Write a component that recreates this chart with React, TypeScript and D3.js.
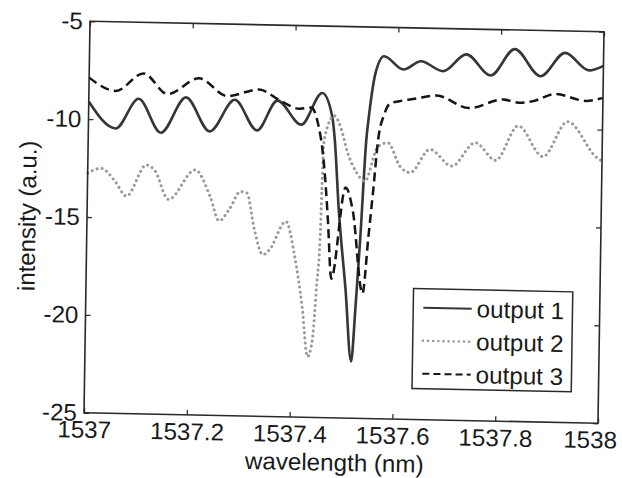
import React, { useEffect, useRef } from "react";
import * as d3 from "d3";

// output 1 (solid) - wavelength (nm) / intensity (a.u.)
const output1Wl = [
  1537.0, 1537.053, 1537.097, 1537.141, 1537.189, 1537.236, 1537.284, 1537.328,
  1537.367, 1537.414, 1537.454, 1537.474, 1537.48, 1537.489, 1537.505, 1537.518,
  1537.525, 1537.532, 1537.541, 1537.546, 1537.557, 1537.573, 1537.611, 1537.645,
  1537.688, 1537.733, 1537.781, 1537.827, 1537.878, 1537.925, 1537.972, 1538.0,
];
const output1Db = [
  -9.1, -10.45, -8.91, -10.62, -8.79, -10.5, -8.86, -10.4, -8.86, -10.06, -8.42,
  -9.61, -10.89, -14.21, -18.43, -22.1, -19.27, -15.87, -10.76, -9.39, -7.34,
  -6.48, -7.14, -6.7, -7.18, -6.3, -7.35, -5.98, -7.34, -6.12, -6.99, -6.74,
];

// output 2 (dotted)
const output2Wl = [
  1537.0, 1537.026, 1537.052, 1537.076, 1537.114, 1537.13, 1537.158, 1537.209,
  1537.239, 1537.257, 1537.276, 1537.298, 1537.31, 1537.326, 1537.343, 1537.356,
  1537.387, 1537.405, 1537.421, 1537.433, 1537.442, 1537.449, 1537.454, 1537.456,
  1537.459, 1537.478, 1537.491, 1537.505, 1537.523, 1537.539, 1537.564, 1537.583,
  1537.607, 1537.627, 1537.665, 1537.708, 1537.753, 1537.793, 1537.836, 1537.885,
  1537.932, 1537.989, 1538.0,
];
const output2Db = [
  -12.76, -12.5, -13.09, -13.89, -12.28, -12.53, -14.02, -12.48, -13.83, -15.06,
  -14.48, -13.54, -13.6, -15.48, -16.74, -16.48, -15.02, -16.79, -19.34, -21.9,
  -21.02, -18.12, -15.91, -13.36, -10.8, -9.57, -10.17, -11.44, -12.45, -12.88,
  -11.1, -10.9, -12.08, -12.4, -11.19, -12.02, -10.8, -11.68, -9.9, -11.44,
  -9.63, -11.42, -11.61,
];

// output 3 (dashed)
const output3Wl = [
  1537.0, 1537.052, 1537.106, 1537.153, 1537.214, 1537.269, 1537.331, 1537.372,
  1537.41, 1537.433, 1537.447, 1537.456, 1537.464, 1537.469, 1537.477, 1537.502,
  1537.517, 1537.538, 1537.548, 1537.556, 1537.564, 1537.575, 1537.586, 1537.604,
  1537.634, 1537.676, 1537.74, 1537.806, 1537.836, 1537.862, 1537.908, 1537.967,
  1538.0,
];
const output3Db = [
  -7.88, -8.53, -7.61, -8.64, -7.8, -8.68, -8.31, -8.85, -9.25, -9.18, -10.04,
  -11.32, -13.35, -15.05, -17.9, -13.23, -14.44, -18.62, -15.69, -13.3, -10.74,
  -9.46, -8.89, -8.76, -8.62, -8.43, -9.04, -8.56, -8.71, -8.63, -8.23, -8.55,
  -8.38,
];

const seriesNames = ["output 1", "output 2", "output 3"];
const xTicks = [1537, 1537.2, 1537.4, 1537.6, 1537.8, 1538];
const xTickLabels = ["1537", "1537.2", "1537.4", "1537.6", "1537.8", "1538"];
const yTicks = [-25, -20, -15, -10, -5];
const yTickLabels = ["-25", "-20", "-15", "-10", "-5"];

const FONT = "'Liberation Sans', Arial, Helvetica, sans-serif";

const App: React.FC = () => {
  const svgRef = useRef<SVGSVGElement>(null);

  useEffect(() => {
    if (!svgRef.current) return;
    const svg = d3.select(svgRef.current);
    svg.selectAll("*").remove();

    const W = 510;
    const H = 392;

    // scanned figure is slightly tilted, so the whole plot gets a small affine transform
    const g = svg
      .append("g")
      .attr("transform", "matrix(1.0078 0.0206 -0.0153 0.9987 90 21.25)");

    const x = d3.scaleLinear().domain([1537, 1538]).range([0, W]);
    const y = d3.scaleLinear().domain([-25, -5]).range([H, 0]);

    const line = d3
      .line<[number, number]>()
      .x((d) => x(d[0]))
      .y((d) => y(d[1]))
      .curve(d3.curveMonotoneX);

    const styles = [
      { stroke: "#363636", width: 2.6, dash: null as string | null, cap: "butt" },
      { stroke: "#9a9a9a", width: 3, dash: "0.1 5", cap: "round" },
      { stroke: "#151515", width: 2.5, dash: "9 5", cap: "butt" },
    ];

    const series: [number, number][][] = [
      output1Wl.map((w, i) => [w, output1Db[i]]),
      output2Wl.map((w, i) => [w, output2Db[i]]),
      output3Wl.map((w, i) => [w, output3Db[i]]),
    ];

    // axes (ticks inward on all four sides)
    const xb = g
      .append("g")
      .attr("transform", `translate(0,${H})`)
      .call(
        d3
          .axisBottom(x)
          .tickValues(xTicks)
          .tickSize(-5)
          .tickSizeOuter(0)
          .tickPadding(8)
          .tickFormat((_, i) => xTickLabels[i])
      );
    const xt = g.append("g").call(
      d3
        .axisTop(x)
        .tickValues(xTicks)
        .tickSize(-5)
        .tickSizeOuter(0)
        .tickFormat(() => "")
    );
    const yl = g.append("g").call(
      d3
        .axisLeft(y)
        .tickValues(yTicks)
        .tickSize(-5)
        .tickSizeOuter(0)
        .tickPadding(7)
        .tickFormat((_, i) => yTickLabels[i])
    );
    const yr = g
      .append("g")
      .attr("transform", `translate(${W},0)`)
      .call(
        d3
          .axisRight(y)
          .tickValues(yTicks)
          .tickSize(-5)
          .tickSizeOuter(0)
          .tickFormat(() => "")
      );

    [xb, xt, yl, yr].forEach((a) => {
      a.select(".domain").remove();
      a.selectAll("line").attr("stroke", "#333").attr("stroke-width", 1.3);
      a.selectAll("text")
        .attr("fill", "#1a1a1a")
        .style("font-family", FONT)
        .style("font-size", "24px");
    });

    // last x label sits a bit left of its tick in the reference
    xb.selectAll<SVGTextElement, number>("text")
      .filter((d) => d === 1538)
      .attr("dx", -8);

    // data lines
    series.forEach((pts, i) => {
      const s = styles[i];
      g.append("path")
        .datum(pts)
        .attr("d", line)
        .attr("fill", "none")
        .attr("stroke", s.stroke)
        .attr("stroke-width", s.width)
        .attr("stroke-linecap", s.cap)
        .attr("stroke-linejoin", "round")
        .attr("stroke-dasharray", s.dash);
    });

    // plot frame
    g.append("rect")
      .attr("x", 0)
      .attr("y", 0)
      .attr("width", W)
      .attr("height", H)
      .attr("fill", "none")
      .attr("stroke", "#2a2a2a")
      .attr("stroke-width", 1.6);

    // axis titles
    g.append("text")
      .attr("x", W / 2 - 6)
      .attr("y", H + 53)
      .attr("text-anchor", "middle")
      .attr("fill", "#1a1a1a")
      .style("font-family", FONT)
      .style("font-size", "24px")
      .text("wavelength (nm)");

    g.append("text")
      .attr("transform", `translate(-51,${H / 2}) rotate(-90)`)
      .attr("text-anchor", "middle")
      .attr("fill", "#1a1a1a")
      .style("font-family", FONT)
      .style("font-size", "24px")
      .text("intensity (a.u.)");

    // legend
    const legend = g.append("g").attr("transform", "translate(325,261)");
    legend
      .append("rect")
      .attr("width", 158)
      .attr("height", 100)
      .attr("fill", "#fff")
      .attr("stroke", "#2a2a2a")
      .attr("stroke-width", 1.5);

    seriesNames.forEach((name, i) => {
      const s = styles[i];
      const rowY = 19 + i * 33;
      legend
        .append("line")
        .attr("x1", 10)
        .attr("x2", 58)
        .attr("y1", rowY)
        .attr("y2", rowY)
        .attr("stroke", s.stroke)
        .attr("stroke-width", i === 1 ? 2.5 : 2)
        .attr("stroke-linecap", s.cap)
        .attr("stroke-dasharray", i === 2 ? "7 4" : s.dash);
      legend
        .append("text")
        .attr("x", 63)
        .attr("y", rowY + 8.5)
        .attr("fill", "#1a1a1a")
        .style("font-family", FONT)
        .style("font-size", "24px")
        .text(name);
    });
  }, []);

  return (
    <div style={{ position: "absolute", left: 0, top: 0 }}>
      <svg
        ref={svgRef}
        width={622}
        height={478}
        style={{ display: "block", background: "#fff" }}
      />
    </div>
  );
};

export default App;
